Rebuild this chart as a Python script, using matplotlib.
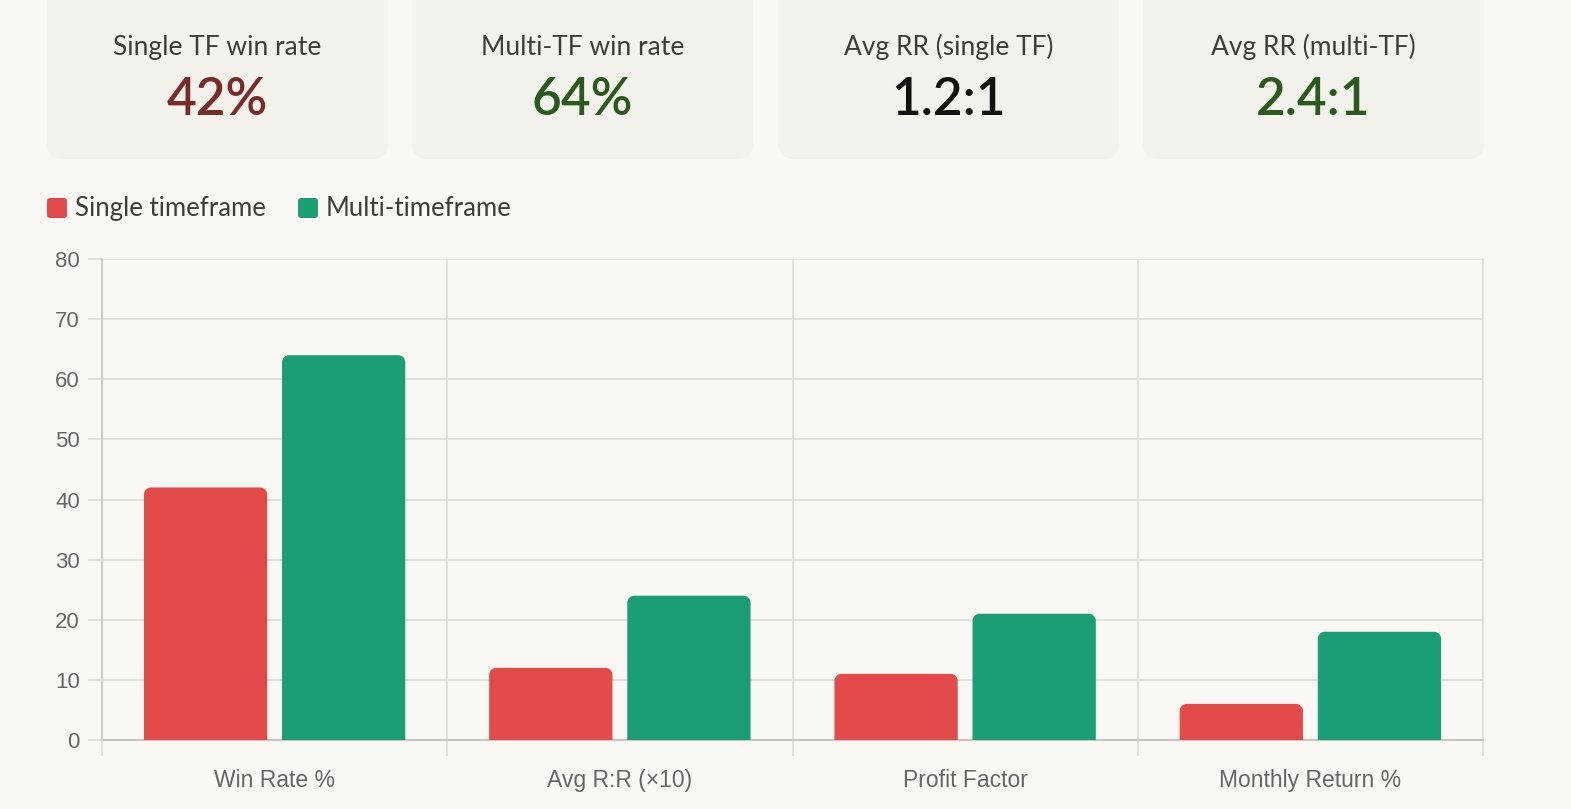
import matplotlib
matplotlib.use("Agg")
import matplotlib.pyplot as plt
from matplotlib.patches import FancyBboxPatch, PathPatch
from matplotlib.path import Path
import numpy as np

categories = ["Win Rate %", "Avg R:R (\u00d710)", "Profit Factor", "Monthly Return %"]
single_tf = [42, 12, 11, 6]
multi_tf = [64, 24, 21, 18]
series_names = ["Single timeframe", "Multi-timeframe"]

card_labels = ["Single TF win rate", "Multi-TF win rate", "Avg RR (single TF)", "Avg RR (multi-TF)"]
card_values = ["42%", "64%", "1.2:1", "2.4:1"]
card_colors = ["#7a2b27", "#2a5a1b", "#111111", "#2a5a1b"]

BG = "#f9f8f5"
CARD = "#f3f2ec"
RED = "#e34b4a"
GREEN = "#1b9e76"
GRID = "#dedddA"
AXIS = "#c8c7c3"
TICK = "#666666"
W, H = 1571, 809

fig = plt.figure(figsize=(W / 100, H / 100), dpi=100, facecolor=BG)

# overlay in pixel coords for cards and legend
ov = fig.add_axes([0, 0, 1, 1])
ov.set_xlim(0, W)
ov.set_ylim(H, 0)
ov.axis("off")

card_x = [47, 412, 778, 1143]
card_w = 341
for cx, lab, val, col in zip(card_x, card_labels, card_values, card_colors):
    ov.add_patch(FancyBboxPatch((cx, -30), card_w, 189, boxstyle="round,pad=0,rounding_size=16",
                                fc=CARD, ec="none"))
    ov.text(cx + card_w / 2, 47, lab, ha="center", va="center", fontsize=19,
            family="Lato", color="#3d3d3a")
    ov.text(cx + card_w / 2, 100, val, ha="center", va="center", fontsize=37,
            family="Lato", weight="semibold", color=col)

for lx, name, col in [(47, series_names[0], RED), (298, series_names[1], GREEN)]:
    ov.add_patch(FancyBboxPatch((lx, 198), 20, 20, boxstyle="round,pad=0,rounding_size=3",
                                fc=col, ec="none"))
    ov.text(lx + 28, 208, name, ha="left", va="center", fontsize=18.5, family="Lato",
            color="#3d3d3a")

ax = fig.add_axes([102 / W, 69 / H, 1381 / W, 481 / H])
ax.set_facecolor(BG)
x = np.arange(len(categories))
bw = 0.357
bars1 = ax.bar(x - 0.2, single_tf, bw, color=RED)
bars2 = ax.bar(x + 0.2, multi_tf, bw, color=GREEN)

ax.set_xlim(-0.5, 3.5)
ax.set_ylim(0, 80)

# rounded top corners
rx = 7 * 4 / 1381
ry = 7 * 80 / 481
k = 0.5523
for bars in (bars1, bars2):
    for b in bars:
        x0, w, h = b.get_x(), b.get_width(), b.get_height()
        x1 = x0 + w
        verts = [(x0, 0), (x0, h - ry), (x0, h - ry + k * ry), (x0 + rx - k * rx, h), (x0 + rx, h),
                 (x1 - rx, h), (x1 - rx + k * rx, h), (x1, h - ry + k * ry), (x1, h - ry),
                 (x1, 0), (x0, 0)]
        codes = [Path.MOVETO, Path.LINETO, Path.CURVE4, Path.CURVE4, Path.CURVE4,
                 Path.LINETO, Path.CURVE4, Path.CURVE4, Path.CURVE4, Path.LINETO, Path.CLOSEPOLY]
        ax.add_patch(PathPatch(Path(verts, codes), fc=b.get_facecolor(), ec="none", zorder=3))
        b.set_visible(False)

ax.set_yticks(range(0, 81, 10))
ax.set_xticks(x)
ax.set_xticklabels(categories)
ax.set_xticks(np.arange(-0.5, 4, 1), minor=True)
ax.tick_params(axis="x", which="major", length=0, pad=21, labelsize=16.5, labelcolor=TICK)
ax.tick_params(axis="x", which="minor", length=11.5, width=1.2, color=GRID)
ax.tick_params(axis="y", length=10, width=1.2, color=GRID, pad=6, labelsize=16, labelcolor=TICK)
for lab in ax.get_xticklabels() + ax.get_yticklabels():
    lab.set_family("Liberation Sans")

ax.grid(True, axis="y", color=GRID, lw=1.2, zorder=0)
ax.grid(True, axis="x", which="minor", color=GRID, lw=1.2, zorder=0)
ax.set_axisbelow(True)
for s in ["top", "right"]:
    ax.spines[s].set_visible(False)
ax.spines["left"].set_color(AXIS)
ax.spines["bottom"].set_color(AXIS)
ax.spines["left"].set_linewidth(1.2)
ax.spines["bottom"].set_linewidth(1.5)
ax.axvline(3.5, color=GRID, lw=1.2, zorder=0, clip_on=False)

fig.savefig("out.png", dpi=100, facecolor=BG)
